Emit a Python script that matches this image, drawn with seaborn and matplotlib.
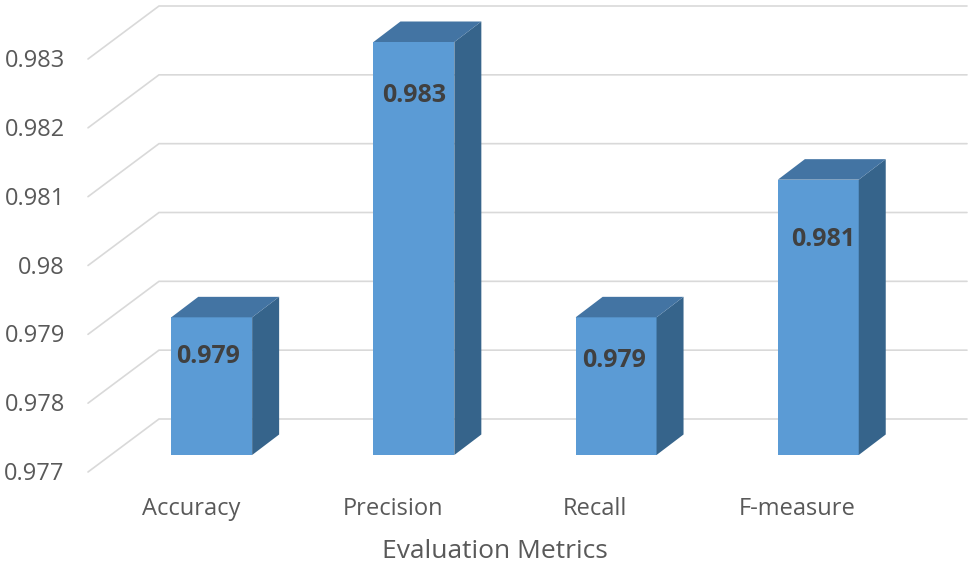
import matplotlib
matplotlib.use('Agg')
import matplotlib.pyplot as plt
import matplotlib.transforms as mtransforms
import seaborn as sns

metrics = ['Accuracy', 'Precision', 'Recall', 'F-measure']
scores = [0.979, 0.983, 0.979, 0.981]
y_ticks = [0.977, 0.978, 0.979, 0.98, 0.981, 0.982, 0.983]
y_tick_labels = ['0.977', '0.978', '0.979', '0.98', '0.981', '0.982', '0.983']
x_title = 'Evaluation Metrics'

sns.set_theme(style='white')
plt.rcParams['font.family'] = ['Open Sans', 'DejaVu Sans']

W, H = 975, 564
fig = plt.figure(figsize=(W / 100, H / 100), dpi=100)
ax = fig.add_axes([110.6 / W, (H - 455) / H, 808.8 / W, 413 / H])

sns.barplot(x=metrics, y=scores, color='#5B9BD5', saturation=1, width=0.4, linewidth=0, ax=ax)
ax.set_xlim(-0.5, 3.5)
ax.set_ylim(0.977, 0.983)

# one unit of each axis in pixels, to work out the fake 3d depth
px_x = 1 / 202.2
px_y = 0.001 / 68.83

# floor and back wall lines
for v in y_ticks:
    xs = [(88 - 211.7) * px_x, (159 - 211.7) * px_x, (967 - 211.7) * px_x]
    ys = [v - 17 * px_y, v + 36 * px_y, v + 36 * px_y]
    ax.plot(xs, ys, color='#D9D9D9', lw=1.2, zorder=0.5, clip_on=False, solid_joinstyle='miter')

# side and top faces of the bars
dx = 27 * px_x
dy = 20.5 * px_y
for i, v in enumerate(scores):
    x0, x1 = i - 0.2, i + 0.2
    ax.fill([x1, x1 + dx, x1 + dx, x1], [0.977, 0.977 + dy, v + dy, v],
            color='#36648B', lw=0, zorder=1.5, clip_on=False)
    ax.fill([x0, x0 + dx, x1 + dx, x1], [v, v + dy, v + dy, v],
            color='#4374A3', lw=0, zorder=1.5, clip_on=False)

# data labels sit at odd places inside the bars
label_offsets = [(-3.7, -39), (0, -54), (-2, -43), (5, -60)]
for i, v in enumerate(scores):
    ax.annotate(f'{v:g}', xy=(i, v), xytext=(label_offsets[i][0] * 0.72, label_offsets[i][1] * 0.72),
                textcoords='offset points', ha='center', va='center',
                fontsize=18, fontweight='bold', color='#404040', zorder=5)

ax.set_yticks(y_ticks)
ax.set_yticklabels(y_tick_labels)
ax.tick_params(axis='y', length=0, pad=33, labelsize=17, labelcolor='#595959')
ax.tick_params(axis='x', length=0, pad=30, labelsize=17, labelcolor='#595959')

y_shift = mtransforms.ScaledTranslation(0, -16 / 100, fig.dpi_scale_trans)
for lab in ax.get_yticklabels():
    lab.set_transform(lab.get_transform() + y_shift)
x_shift = mtransforms.ScaledTranslation(-21 / 100, 0, fig.dpi_scale_trans)
for lab in ax.get_xticklabels():
    lab.set_transform(lab.get_transform() + x_shift)

ax.set_xlabel(x_title, fontsize=19, color='#595959')
ax.xaxis.set_label_coords((494.5 - 110.6) / 808.8, -96 / 413)
ax.xaxis.label.set_va('center')
sns.despine(ax=ax, left=True, bottom=True)

fig.savefig('out.png', dpi=100, facecolor='white')
